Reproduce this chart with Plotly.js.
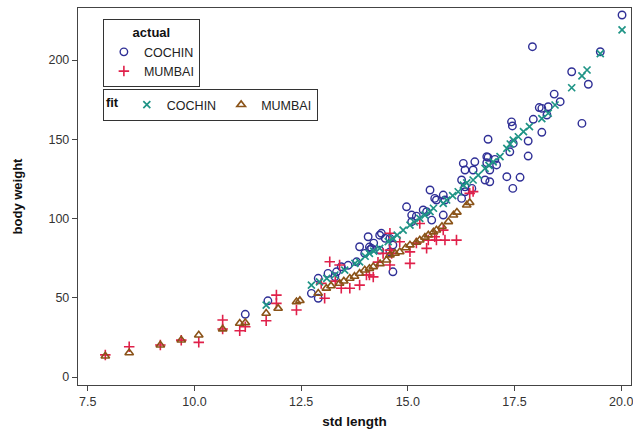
<!DOCTYPE html>
<html>
<head>
<meta charset="utf-8">
<script src="https://cdn.plot.ly/plotly-3.0.1.min.js"></script>
<style>html,body{margin:0;padding:0;background:#fff;}#chart{width:633px;height:432px;}</style>
</head>
<body>
<div id="chart"></div>
<script>
// actual COCHIN (circles)
const cochinActualX = [11.19,11.72,12.74,12.9,12.9,13.13,13.29,13.33,13.44,13.8,13.87,13.99,14.07,14.1,14.15,14.34,14.34,14.38,14.47,14.58,14.58,14.65,14.65,14.97,15.09,15.09,15.36,15.44,15.52,15.56,15.63,15.67,15.83,15.83,15.87,16.26,16.26,16.3,16.34,16.34,16.34,16.5,16.53,16.57,16.81,16.85,16.85,16.88,16.88,16.92,16.92,17.04,17.08,17.32,17.39,17.43,17.45,17.46,17.47,17.63,17.82,17.82,17.92,17.94,18.08,18.14,18.14,18.26,18.29,18.43,18.57,18.84,19.08,19.23,19.51,20.02,14.12,14.2,13.6,15.2];
const cochinActualY = [39.6,48.1,52.8,49.7,62.3,65.4,63.3,66.4,69.6,72.7,82.2,78,88.5,82,81.2,89.5,80.1,90.7,87.5,87.5,79,83.3,66.4,107.4,102.2,98,105.4,104.3,118,99,112.7,111.7,114.8,102.2,111.7,124.3,112.7,134.8,120,116.9,130.6,119,130.6,135.8,124.3,135.2,139,138.6,150,130.6,123.2,137.3,133.8,126.4,142.1,161,158.4,119,147.4,126,148.9,139.4,208.4,162.6,170,154.4,169.5,165.3,170.5,178.5,173.7,192.6,160,184.7,205.2,228.4,80.5,84.5,70.5,101.5];

// actual MUMBAI (plus)
const mumbaiActualX = [7.91,8.47,9.2,9.69,10.1,10.66,10.66,11.06,11.19,11.68,11.92,11.92,12.39,12.97,13.05,13.17,13.4,13.44,13.64,13.87,14.03,14.1,14.19,14.42,14.58,14.58,14.58,14.62,14.81,15.05,15.05,15.28,15.44,15.48,15.63,15.67,15.83,15.87,16.14,16.45,16.53,13.3,14.3,15.2];
const mumbaiActualY = [14,19.1,20.2,23.3,21.9,30.3,36,29.2,31.7,35.5,51.7,46.5,42.3,59.1,49.7,72.7,70.7,56,56,58,64.4,64.4,63.2,78,90.7,70.7,80.1,78,85.4,71.7,79,96.9,81.2,86.4,88.5,86.4,92.7,86.4,86.4,115.9,117,60.5,72.5,84.5];

// fit COCHIN (x)
const cochinFitX = [11.68,12.74,12.93,13.29,13.52,13.76,13.87,14.1,14.34,14.54,14.65,14.89,15.05,15.28,15.4,15.52,15.83,15.91,16.18,16.3,16.38,16.53,16.65,16.81,17.0,17.16,17.32,17.47,17.59,17.71,17.85,18.14,18.29,18.45,18.84,19.08,19.2,19.51,20.02,13.1,14.0,14.2,14.75,15.15,15.6,16.05,16.9,17.4];
const cochinFitY = [45.4,58,60.1,64.4,67.5,71.7,72.7,78,81.2,85.4,87.5,92.7,95.9,100.1,102.2,104.3,109.6,111.7,116.9,121.1,122.5,124.3,127.4,131.7,135.8,139,144.3,149.5,151.6,154.8,158,163,166.4,171.6,182.5,190,193.7,204,219,62.3,76.2,79.5,89.5,97.8,106.5,114.5,133.5,147];

// fit MUMBAI (triangles)
const mumbaiFitX = [7.91,8.47,9.2,9.69,10.1,10.66,11.06,11.19,11.68,11.96,12.39,12.47,12.9,13.09,13.4,13.64,13.87,13.99,14.19,14.5,14.58,14.81,15.05,15.28,15.48,15.67,15.95,16.07,16.38,13.2,13.5,13.75,14.1,14.35,14.7,14.95,15.2,15.4,15.6,15.8,16.15,16.45];
const mumbaiFitY = [13.2,15.3,20.2,23.3,26.5,30.3,33.9,34.3,40.2,43.3,47.5,48.2,52.8,56,59.1,62.3,65.4,67.5,69.6,73.8,77,79,83.3,86.4,89.6,92.7,98,102.2,108.5,57.5,60.5,63.5,68.5,71.5,78,81.5,85,88.2,91.5,95,104,110];

const xTicks = [7.5,10,12.5,15,17.5,20];
const yTicks = [0,50,100,150,200];

const font = 'Liberation Sans, Arial, sans-serif';
const traces = [
  {x: cochinActualX, y: cochinActualY, name: 'COCHIN', type: 'scatter', mode: 'markers', legend: 'legend',
   marker: {symbol: 'circle-open', size: 7.5, color: '#2F2F96', line: {width: 1.4}}},
  {x: mumbaiActualX, y: mumbaiActualY, name: 'MUMBAI', type: 'scatter', mode: 'markers', legend: 'legend',
   marker: {symbol: 'cross-thin-open', size: 7.5, color: '#E0204A', line: {width: 1.6, color: '#E0204A'}}},
  {x: cochinFitX, y: cochinFitY, name: 'COCHIN', type: 'scatter', mode: 'markers', legend: 'legend2',
   marker: {symbol: 'x-thin-open', size: 7, color: '#1F9486', line: {width: 1.7, color: '#1F9486'}}},
  {x: mumbaiFitX, y: mumbaiFitY, name: 'MUMBAI', type: 'scatter', mode: 'markers', legend: 'legend2',
   marker: {symbol: 'triangle-up-open', size: 7.5, color: '#8A5318', line: {width: 1.6}}}
];

const layout = {
  width: 633, height: 432,
  margin: {l: 78, r: 2, t: 8, b: 47},
  paper_bgcolor: '#ffffff', plot_bgcolor: '#ffffff',
  font: {family: font, size: 12, color: '#222'},
  showlegend: true,
  xaxis: {
    range: [7.27, 20.23], tickvals: xTicks, tickformat: '.1f',
    ticks: 'outside', ticklen: 5, tickcolor: '#444', showgrid: false, zeroline: false,
    showline: true, linecolor: '#444', linewidth: 1.2, mirror: true,
    ticklabeloverflow: 'allow',
    tickfont: {family: font, size: 12.5, color: '#333'},
    title: {text: 'std length', font: {family: font, size: 13.5, color: '#111', weight: 'bold'}, standoff: 8}
  },
  yaxis: {
    range: [-5, 232.8], tickvals: yTicks,
    ticks: 'outside', ticklen: 5, tickcolor: '#444', showgrid: false, zeroline: false,
    showline: true, linecolor: '#444', linewidth: 1.2, mirror: true,
    tickfont: {family: font, size: 12.5, color: '#333'},
    title: {text: 'body weight', font: {family: font, size: 13, color: '#111', weight: 'bold'}, standoff: 22}
  },
  legend: {
    x: 0.045, y: 0.97, xanchor: 'left', yanchor: 'top',
    bordercolor: '#333', borderwidth: 1, bgcolor: '#fff',
    font: {family: font, size: 12.5, color: '#222'},
    title: {text: '<b>actual</b>', side: 'top center', font: {family: font, size: 13, color: '#111'}},
    tracegroupgap: 0, itemwidth: 30
  },
  legend2: {
    x: 0.045, y: 0.785, xanchor: 'left', yanchor: 'top', orientation: 'h',
    bordercolor: '#333', borderwidth: 1, bgcolor: '#fff',
    font: {family: font, size: 12.5, color: '#222'},
    title: {text: '<b>fit</b>', side: 'left', font: {family: font, size: 13, color: '#111'}},
    itemwidth: 30
  }
};

Plotly.newPlot('chart', traces, layout, {displayModeBar: false, staticPlot: true});
</script>
</body>
</html>
